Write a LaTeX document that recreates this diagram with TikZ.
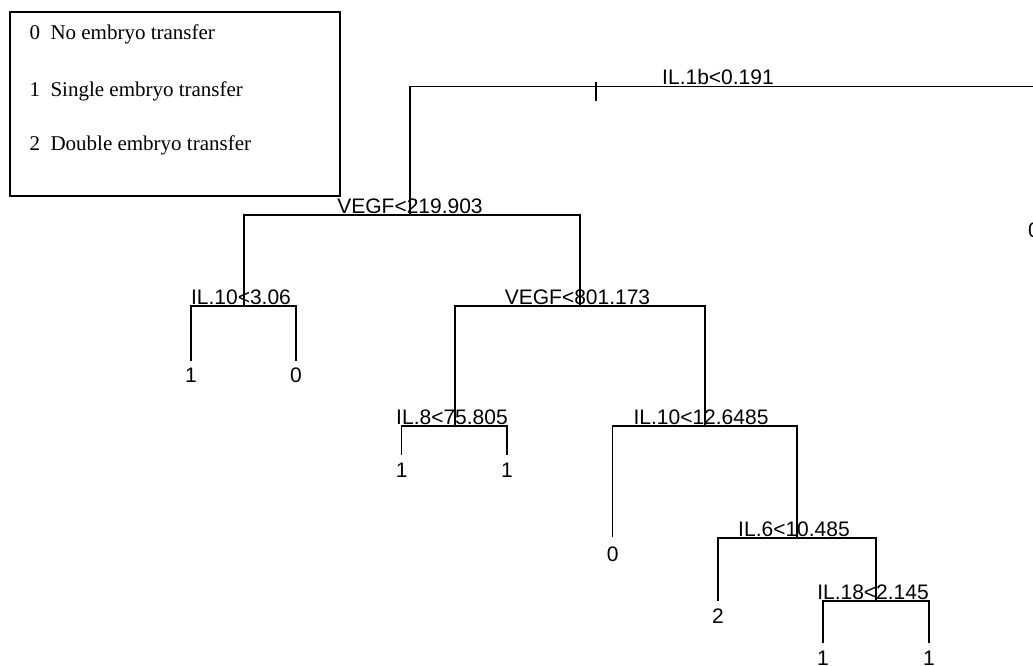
\documentclass[tikz,border=0pt]{standalone}
\usepackage{fontspec}
\setmainfont{Liberation Serif}
\newfontfamily\treefont{Liberation Sans}
\usepackage{tikz}
\usetikzlibrary{positioning,calc}

\begin{document}
\begin{tikzpicture}[x=1pt,y=-1pt,
  branch/.style={line width=1.25pt,black},
  split/.style={font=\treefont\fontsize{21}{21}\selectfont,anchor=base,inner sep=0pt},
  leaf/.style={font=\treefont\fontsize{21}{21}\selectfont,inner sep=0pt},
  key/.style={font=\fontsize{21}{21}\selectfont,anchor=base west,inner sep=0pt}]
  \useasboundingbox (0,0) rectangle (1033,666);
  \clip (0,0) rectangle (1033,666);
  % legenda
  \draw[line width=1.8pt] (10,11.7) rectangle (340,196);
  \node[key] (key0) at (29.3,40)  {0\enspace No embryo transfer};
  \node[key] (key1) at (29.3,96.7) {1\enspace Single embryo transfer};
  \node[key] (key2) at (29.3,150) {2\enspace Double embryo transfer};
  % nos internos (altura da barra)
  \coordinate (root) at (722,86.7);
  \coordinate (s1) at (410,215);
  \coordinate (s2) at (244,306);
  \coordinate (s3) at (580,306);
  \coordinate (s4) at (455,426);
  \coordinate (s5) at (705,426);
  \coordinate (s6) at (797,538);
  \coordinate (s7) at (876,601);
  % folhas (fim do ramo)
  \coordinate (l1) at (191,361);
  \coordinate (l2) at (296,361);
  \coordinate (l3) at (401.7,455);
  \coordinate (l4) at (507,455);
  \coordinate (l5) at (612.7,537.3);
  \coordinate (l6) at (718,601);
  \coordinate (l7) at (823,643);
  \coordinate (l8) at (929,643);
  \coordinate (l9) at (1034,222);
  % ramos
  \draw[branch] (s1) |- (root) -| (l9);
  \draw[branch] (s2) |- (s1) -| (s3);
  \draw[branch] (l1) |- (s2) -| (l2);
  \draw[branch] (s4) |- (s3) -| (s5);
  \draw[branch] (l3) |- (s4) -| (l4);
  \draw[branch] (l5) |- (s5) -| (s6);
  \draw[branch] (l6) |- (s6) -| (s7);
  \draw[branch] (l7) |- (s7) -| (l8);
  % marca na raiz
  \coordinate (tick) at (596,81.7);
  \draw[branch] (tick) -- ++(0,19);
  % regras
  \node[split] (c0) at (718,85)     {IL.1b<0.191};
  \node[split] (c1) at (410,213.3)  {VEGF<219.903};
  \node[split] (c2) at (241,304.3)  {IL.10<3.06};
  \node[split] (c3) at (577.5,304.3){VEGF<801.173};
  \node[split] (c4) at (452,424.3)  {IL.8<75.805};
  \node[split] (c5) at (701,424.3)  {IL.10<12.6485};
  \node[split] (c6) at (794,536.3)  {IL.6<10.485};
  \node[split] (c7) at (873,599.3)  {IL.18<2.145};
  % classes
  \node[leaf] (t1) at (191,375.5)  {1};
  \node[leaf] (t2) at (296,375.5)  {0};
  \node[leaf] (t3) at (401.7,470)  {1};
  \node[leaf] (t4) at (507,470)    {1};
  \node[leaf] (t5) at (612.7,554)  {0};
  \node[leaf] (t6) at (718,616)    {2};
  \node[leaf] (t7) at (823,658)    {1};
  \node[leaf] (t8) at (929,658)    {1};
  \node[leaf] (t9) at (1034,230)   {0};
\end{tikzpicture}
\end{document}
